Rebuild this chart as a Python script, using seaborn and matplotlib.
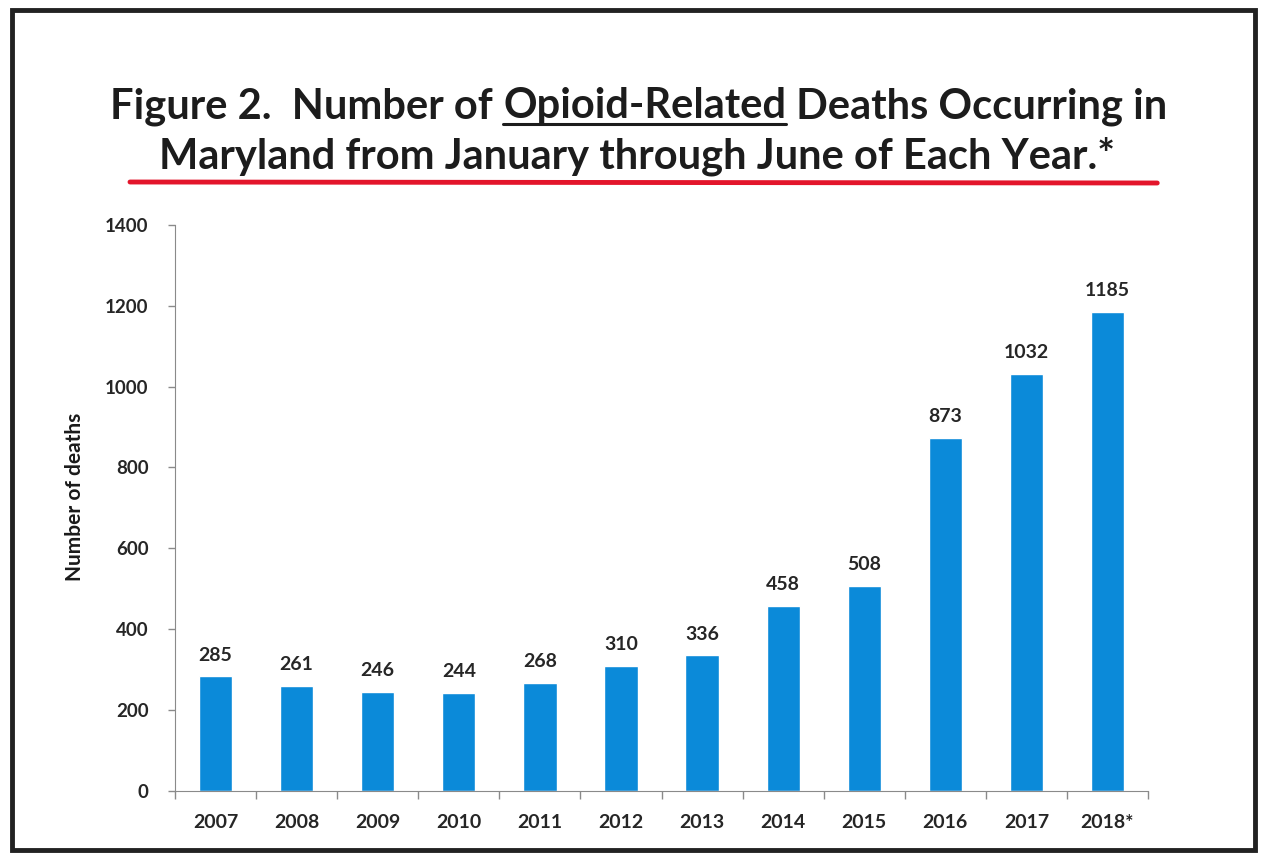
import pandas as pd
import seaborn as sns
import matplotlib.pyplot as plt
import numpy as np
from matplotlib.patches import Rectangle
from matplotlib.lines import Line2D

# Data
years = ['2007', '2008', '2009', '2010', '2011', '2012', '2013', '2014', '2015', '2016', '2017', '2018*']
deaths = [285, 261, 246, 244, 268, 310, 336, 458, 508, 873, 1032, 1185]
yticks = [0, 200, 400, 600, 800, 1000, 1200, 1400]

df = pd.DataFrame({'year': years, 'deaths': deaths})

sns.set_style("white")
plt.rcParams['font.family'] = ['Lato', 'DejaVu Sans']

fig = plt.figure(figsize=(12.62, 8.57), dpi=100)
ax = fig.add_axes([0.1387, 0.0765, 0.771, 0.6615])

sns.barplot(data=df, x='year', y='deaths', color='#0b8ad9', saturation=1, width=0.41, ax=ax)

for i, v in enumerate(deaths):
    ax.annotate(str(v), (i, v), xytext=(0, 9), textcoords='offset points',
                ha='center', va='bottom', fontsize=14, fontweight='bold', color='#262626')

ax.set_ylim(0, 1400)
ax.set_yticks(yticks)
ax.set_xlim(-0.5, 11.5)
ax.set_xlabel('')
ax.set_ylabel('Number of deaths', fontsize=15, fontweight='bold', color='#1a1a1a')
ax.yaxis.set_label_coords(-0.093, 0.52)

ax.set_xticks(np.arange(-0.5, 12, 1), minor=True)
ax.tick_params(axis='x', which='major', length=0, pad=16, labelsize=14, labelcolor='#262626')
ax.tick_params(axis='x', which='minor', length=6, width=1, color='#8a8a8a', direction='out', bottom=True)
ax.tick_params(axis='y', length=5, width=1, color='#8a8a8a', direction='out', left=True,
               labelsize=13.5, labelcolor='#262626', pad=14)
for lab in ax.get_xticklabels() + ax.get_yticklabels():
    lab.set_fontweight('bold')

sns.despine(ax=ax, top=True, right=True)
ax.spines['left'].set_color('#8a8a8a')
ax.spines['bottom'].set_color('#8a8a8a')

# Title, first line in pieces so that the middle part can be underlined
renderer = fig.canvas.get_renderer()
tkw = dict(fontsize=30, fontweight='bold', color='#1c1c1c', va='baseline')
parts = ['Figure 2.  Number of ', 'Opioid-Related', ' Deaths Occurring in']
texts = [fig.text(0, 0, p, **tkw) for p in parts]
widths = [t.get_window_extent(renderer).width for t in texts]
total = sum(widths)
x0 = (1262 - total) / 2 + 8
base1 = 1 - 118 / 857
xs = []
for t, w in zip(texts, widths):
    t.set_position((x0 / 1262, base1))
    xs.append((x0, x0 + w))
    x0 += w
ul_y = 1 - 124 / 857
fig.add_artist(Line2D([xs[1][0] / 1262, xs[1][1] / 1262], [ul_y, ul_y], color='#1c1c1c', lw=2.2))

fig.text(0.5 + 6 / 1262, 1 - 168 / 857, 'Maryland from January through June of Each Year.*', ha='center', **tkw)

# Red rule under the title
fig.add_artist(Line2D([0.103, 0.917], [1 - 182 / 857, 1 - 183 / 857], color='#e3152b', lw=3.5))

# Outer frame
fig.patches.append(Rectangle((12 / 1262, 1 - 850 / 857), 1243 / 1262, 840 / 857,
                             transform=fig.transFigure, fill=False, edgecolor='#222222', lw=3.5))

fig.savefig('out.png', dpi=100)
